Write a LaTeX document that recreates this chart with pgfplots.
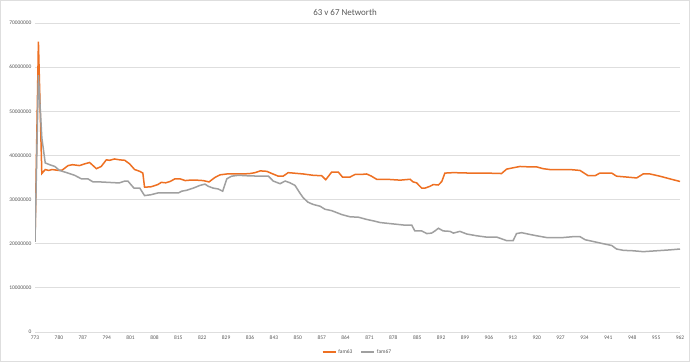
\documentclass[border=0pt]{standalone}
\usepackage{pgfplots}
\pgfplotsset{compat=1.18}
\usepackage{fontspec}
\setmainfont{Carlito}
\definecolor{orangeln}{RGB}{238,112,34}
\definecolor{grayln}{RGB}{160,160,160}
\definecolor{gridc}{RGB}{222,222,222}
\definecolor{txt}{RGB}{89,89,89}
\begin{document}
\begin{tikzpicture}
\useasboundingbox (0,0) rectangle (690bp,362bp);
\fill[white] (0,0) rectangle (690bp,362bp);
\draw[gridc,line width=1bp] (0.5bp,0.5bp) rectangle (689.5bp,361.5bp);
\node[txt,font=\fontsize{9}{10}\selectfont] at (345bp,350bp) {63 v 67 Networth};
\begin{axis}[
  at={(35bp,30bp)}, anchor=south west,
  scale only axis, width=645bp, height=309bp,
  xmin=773, xmax=962, ymin=0, ymax=70000000,
  xtick={773,780,...,962},
  ytick={0,10000000,...,70000000},
  scaled y ticks=false, scaled x ticks=false,
  /pgf/number format/assume math mode=true,
  yticklabel style={/pgf/number format/fixed,/pgf/number format/1000 sep={}, font=\fontsize{5.5}{6}\selectfont, text=txt},
  xticklabel style={/pgf/number format/1000 sep={}, font=\fontsize{5.5}{6}\selectfont, text=txt},
  major tick length=0pt,
  axis x line*=bottom, axis y line*=left,
  x axis line style={gridc,-},
  y axis line style={draw=none},
  ymajorgrids, grid style={gridc, line width=0.8bp},
  legend style={at={(0.5,-0.065)}, anchor=center, draw=none, fill=none, legend columns=2, font=\fontsize{5.5}{6}\selectfont, text=txt, /tikz/every even column/.append style={column sep=6bp}},
  legend image code/.code={\draw[#1] (0bp,0bp) -- (13bp,0bp);},
]
\addplot[orangeln, line width=1.5bp, no markers] coordinates {
(773,20400000) (774,65800000) (775,35900000) (776,36800000) (777,36600000) (778,36800000)
(780,36600000) (781,36700000) (782.7,37700000) (784,37900000) (786,37700000) (787.6,38100000)
(789,38400000) (791,37000000) (792.4,37500000) (793.9,39000000) (794.9,38900000) (796.3,39200000)
(797.8,39000000) (799.3,38900000) (800.7,38100000) (802.2,36800000) (803.7,36400000) (804.6,36000000)
(805.1,32800000) (807,32900000) (809,33400000) (810,33900000) (811.3,33800000) (812.6,34100000)
(814,34700000) (815.5,34700000) (817,34300000) (818.4,34400000) (820.4,34400000) (822.3,34300000)
(824,34000000) (825.7,35000000) (827.2,35600000) (829.2,35800000) (834,35800000) (836,35900000)
(837.5,36100000) (839,36500000) (840.9,36400000) (842.4,35900000) (844.3,35300000) (845.7,35300000)
(847.2,36100000) (848.7,36000000) (851.6,35800000) (854.5,35500000) (857,35400000) (858.2,34500000)
(859.9,36200000) (861.9,36200000) (863.1,35100000) (865.3,35100000) (866.8,35700000) (868.7,35700000)
(870.2,35800000) (871.6,35300000) (873.1,34600000) (876,34600000) (880,34400000) (882.9,34600000)
(883.8,34000000) (884.8,33800000) (886.3,32600000) (887.3,32600000) (888.7,33000000) (889.7,33400000)
(891.2,33300000) (892.2,34100000) (893.1,36000000) (895.6,36100000) (900.5,36000000) (905.3,36000000)
(909.7,35900000) (911.2,36900000) (913.1,37200000) (915.1,37500000) (918,37400000) (920,37400000)
(921.9,37000000) (923.9,36800000) (929.8,36800000) (932.7,36600000) (935.1,35400000) (937.1,35400000)
(938.5,36000000) (942,36000000) (943.4,35300000) (946.4,35100000) (949.3,34900000) (951.2,35800000)
(953.2,35800000) (956.1,35300000) (959,34700000) (962,34100000)
};
\addlegendentry{fam63}
\addplot[grayln, line width=1.5bp, no markers] coordinates {
(773,20400000) (774,58200000) (775,44000000) (776,38300000) (777.3,37900000) (778.8,37500000)
(780.2,36600000) (782.7,36000000) (784.6,35500000) (786.6,34700000) (788.5,34700000) (790,34000000)
(792,34000000) (794.4,33900000) (796.8,33800000) (797.8,33800000) (799.3,34200000) (800.2,34200000)
(802,32600000) (803.7,32600000) (805.1,30900000) (807,31100000) (809,31500000) (815,31500000)
(816,31900000) (817.4,32100000) (819.4,32600000) (821.3,33200000) (822.8,33500000) (823.8,33000000)
(825.2,32600000) (826.7,32400000) (828,31900000) (829.2,34700000) (830.6,35300000) (832.6,35500000)
(835,35400000) (838.9,35300000) (841.4,35300000) (842.8,34200000) (844.8,33600000) (846.3,34200000)
(847.7,33800000) (849.2,33200000) (850.6,31500000) (851.6,30400000) (853,29400000) (854.5,28900000)
(856.5,28500000) (858,27800000) (859.9,27500000) (862.9,26600000) (865.3,26100000) (867.8,26000000)
(870.2,25500000) (872.6,25100000) (874.1,24800000) (876.5,24600000) (879,24400000) (881.4,24200000)
(883.4,24200000) (884.3,22900000) (886.3,22900000) (887.8,22300000) (889.2,22400000) (890.2,22900000)
(891.2,23500000) (892.6,22900000) (894.6,22800000) (895.6,22400000) (897.5,22800000) (899.5,22200000)
(902.4,21800000) (905.3,21500000) (908.3,21500000) (911.2,20700000) (913.1,20700000) (914.1,22300000)
(915.6,22500000) (918,22100000) (920,21800000) (922.9,21400000) (927.8,21400000) (930.7,21600000)
(932.7,21600000) (934.2,20900000) (936.6,20500000) (939.5,20000000) (942,19600000) (943.4,18800000)
(945.4,18500000) (948.3,18400000) (951.2,18200000) (955.1,18400000) (959,18600000) (962,18800000)
};
\addlegendentry{fam67}
\end{axis}
\end{tikzpicture}
\end{document}
